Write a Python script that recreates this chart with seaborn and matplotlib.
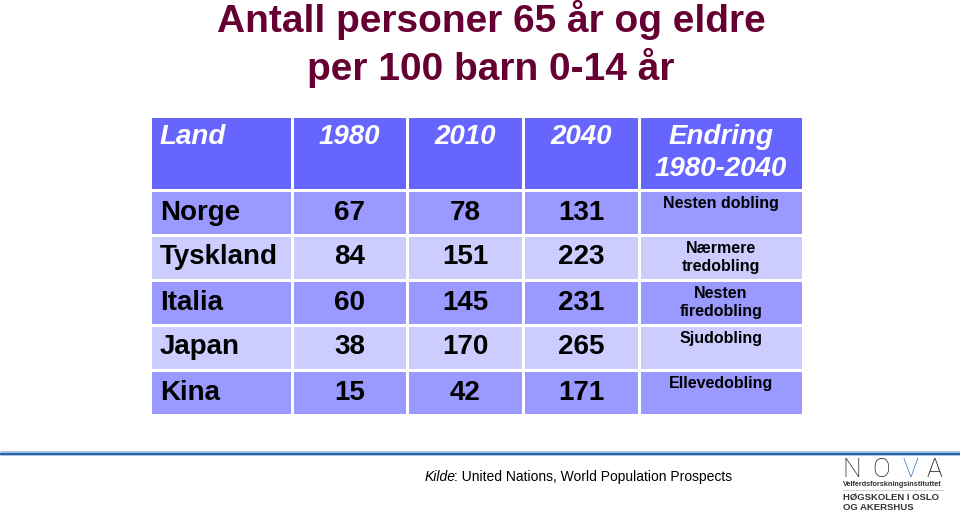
import numpy as np
import matplotlib
matplotlib.use("Agg")
import matplotlib.pyplot as plt
from matplotlib.colors import ListedColormap
import seaborn as sns

plt.rcParams['font.family'] = ['Liberation Sans', 'DejaVu Sans']

# table content
header = ["Land", "1980", "2010", "2040", "Endring\n1980-2040"]
years = ["1980", "2010", "2040"]
land = ["Norge", "Tyskland", "Italia", "Japan", "Kina"]
v1980 = [67, 84, 60, 38, 15]
v2010 = [78, 151, 145, 170, 42]
v2040 = [131, 223, 231, 265, 171]
endring = ["Nesten dobling", "Nærmere\ntredobling", "Nesten\nfiredobling",
           "Sjudobling", "Ellevedobling"]

W, H = 960, 513
fig = plt.figure(figsize=(W / 100, H / 100), dpi=100)

# full-figure overlay in pixel coords for title / footer
bg = fig.add_axes([0, 0, 1, 1])
bg.set_xlim(0, W)
bg.set_ylim(H, 0)
bg.axis('off')

# table geometry (pixels)
tbl_left, tbl_top = 150, 116
col_w = [142, 115, 116, 116, 164]
row_h = [74, 45, 45, 45, 45, 45]
col_edges = np.concatenate([[0], np.cumsum(col_w)]).astype(float)
row_edges = np.concatenate([[0], np.cumsum(row_h)]).astype(float)
tw, th = col_edges[-1], row_edges[-1]

ax = fig.add_axes([tbl_left / W, 1 - (tbl_top + th) / H, tw / W, th / H])

# row bands: 0 = header, 1 = dark row, 2 = light row
bands = np.array([[0] * 5] + [[1 if i % 2 == 0 else 2] * 5 for i in range(len(land))])
cmap = ListedColormap(['#6666FF', '#9999FF', '#CCCCFF'])
sns.heatmap(bands, ax=ax, cmap=cmap, vmin=-0.5, vmax=2.5, cbar=False,
            linewidths=0.9, linecolor='white',
            xticklabels=False, yticklabels=False)

# uneven column widths / row heights via piecewise-linear scales
ci = np.arange(len(col_edges), dtype=float)
ri = np.arange(len(row_edges), dtype=float)
ax.set_xscale('function', functions=(lambda x: np.interp(x, ci, col_edges),
                                     lambda x: np.interp(x, col_edges, ci)))
ax.set_yscale('function', functions=(lambda y: np.interp(y, ri, row_edges),
                                     lambda y: np.interp(y, row_edges, ri)))
ax.set_xlim(0, 5)
ax.set_ylim(6, 0)
ax.set_axis_off()

# header row
hdr_y = 21 / row_h[0]
pad_x = 10 / col_w[0]
hdr_kw = dict(color='white', style='italic', fontweight='bold', fontsize=20, va='center')
ax.text(pad_x, hdr_y, header[0], ha='left', **hdr_kw)
for j, yr in enumerate(years):
    ax.text(j + 1.5, hdr_y, yr, ha='center', **hdr_kw)
ax.text(4.5, 0.5, header[4], ha='center', linespacing=1.3, **hdr_kw)

# body rows
body_kw = dict(color='black', fontweight='bold', fontsize=20, va='center')
for i, name in enumerate(land):
    r = i + 1
    ax.text(pad_x, r + 0.5, name, ha='left', **body_kw)
    for j, vals in enumerate([v1980, v2010, v2040]):
        ax.text(j + 1.5, r + 0.5, str(vals[i]), ha='center', **body_kw)
    ax.text(4.5, r + 6 / 45, endring[i], ha='center', va='top', fontsize=11.5,
            fontweight='bold', color='black', linespacing=1.25)

# title
bg.text(491, 44, "Antall personer 65 år og eldre\nper 100 barn 0-14 år",
        ha='center', va='center', fontsize=28, fontweight='bold',
        color='#660033', linespacing=1.25)

# footer rule
bg.plot([0, W], [453, 453], color='#A9C4E2', lw=3.5, solid_capstyle='butt')
bg.plot([0, W], [453.8, 453.8], color='#2A64A8', lw=1.5, solid_capstyle='butt')

# source
t = bg.text(425, 477, "Kilde", style='italic', fontsize=10, ha='left', va='center')
bg.annotate(": United Nations, World Population Prospects", xy=(1, 0),
            xycoords=t, xytext=(-1.5, 0), textcoords='offset points',
            ha='left', va='bottom', fontsize=10)

# logo
logo_x = [852, 881, 910, 934]
logo_c = ['#1A1A1A', '#1A1A1A', '#2A6FC0', '#1A1A1A']
for ch, x, c in zip("NOVA", logo_x, logo_c):
    bg.text(x, 477, ch, fontsize=19, fontweight='light', family=['Roboto', 'DejaVu Sans'],
            color=c, ha='center', va='baseline')
bg.text(843, 485, "Velferdsforskningsinstituttet", fontsize=5.2, fontweight='bold',
        color='#333333', ha='left', va='center')
bg.plot([843, 943], [490, 490], color='#C8C8C8', lw=0.6)
bg.text(843, 497, "HØGSKOLEN I OSLO", fontsize=6.8, fontweight='bold',
        color='#333333', ha='left', va='center')
bg.text(843, 508, "OG AKERSHUS", fontsize=6.8, fontweight='bold',
        color='#333333', ha='left', va='center')

fig.savefig("out.png", dpi=100)
